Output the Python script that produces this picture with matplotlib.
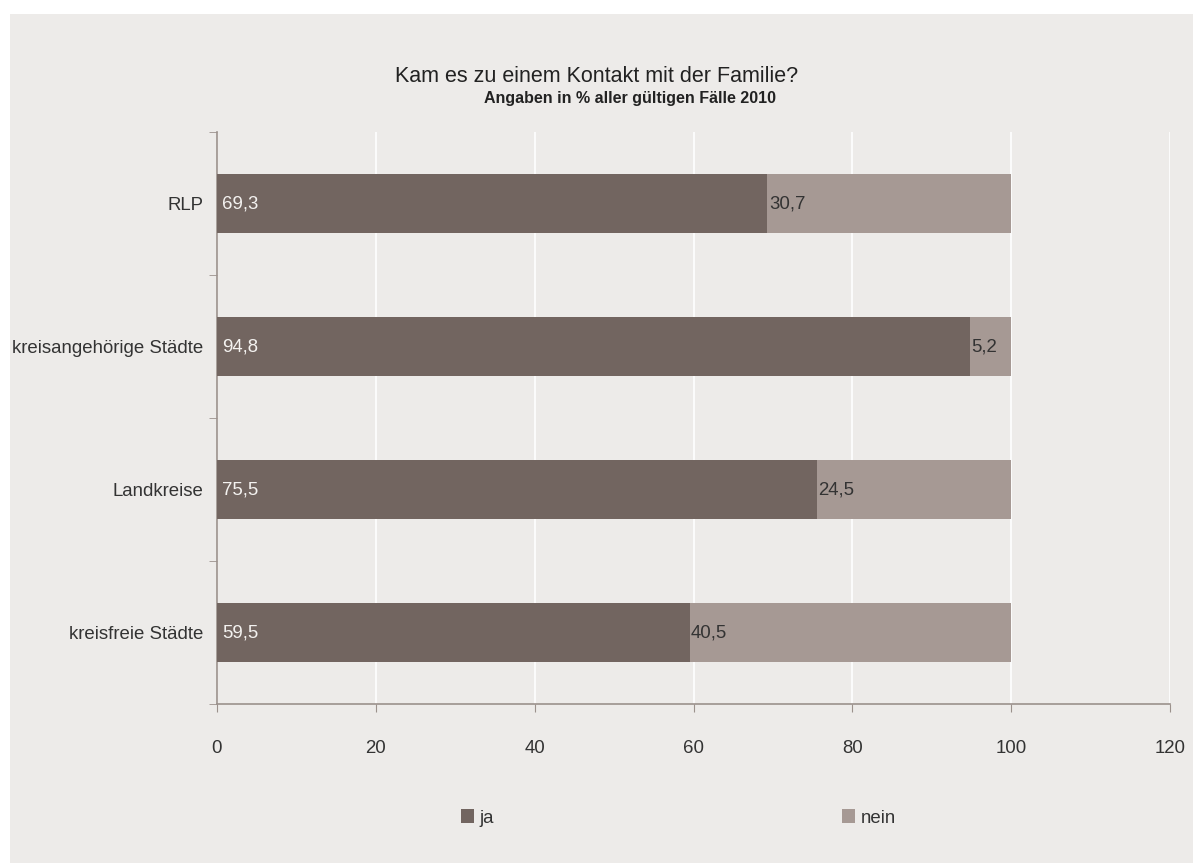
# Kam es zu einem Kontakt mit der Familie? (2010)

import matplotlib.pyplot as plt
from matplotlib.patches import Rectangle

plt.rcParams['font.family'] = ['Liberation Sans', 'DejaVu Sans']

categories = ["kreisfreie Städte", "Landkreise", "kreisangehörige Städte", "RLP"]
ja = [59.5, 75.5, 94.8, 69.3]
nein = [40.5, 24.5, 5.2, 30.7]
xticks = [0, 20, 40, 60, 80, 100, 120]

bg = "#edebe9"
col_ja = "#726560"
col_nein = "#a69994"
axis_col = "#9b918c"
text_col = "#333333"
fs = 13.4

fig = plt.figure(figsize=(11.93, 8.63), dpi=100)
fig.patch.set_facecolor("white")
fig.patches.append(Rectangle((10 / 1193, 0), 1, 1 - 14 / 863, transform=fig.transFigure,
                             facecolor=bg, edgecolor="none", zorder=-10))

ax = fig.add_axes([217 / 1193, 1 - 704 / 863, (1170 - 217) / 1193, (704 - 132) / 863])
ax.set_facecolor(bg)

y = range(len(categories))
b1 = ax.barh(y, ja, height=0.41, color=col_ja, label="ja", zorder=3)
b2 = ax.barh(y, nein, left=ja, height=0.41, color=col_nein, label="nein", zorder=3)

# value labels at the start of each segment
for i in y:
    ax.text(0.6, i, f"{ja[i]:.1f}".replace(".", ","), va="center", ha="left",
            fontsize=fs, color="#f4f2f0", zorder=4)
    ax.text(ja[i] + 0.2, i, f"{nein[i]:.1f}".replace(".", ","), va="center", ha="left",
            fontsize=fs, color=text_col, zorder=4)

ax.set_xlim(0, 120)
ax.set_ylim(-0.5, 3.5)
ax.set_xticks(xticks)
ax.set_xticklabels([str(t) for t in xticks], fontsize=fs, color=text_col)
ax.set_yticks(list(y))
ax.set_yticklabels(categories, fontsize=fs, color=text_col)
ax.set_yticks([-0.5, 0.5, 1.5, 2.5, 3.5], minor=True)
ax.tick_params(axis="y", which="major", length=0, pad=10)
ax.tick_params(axis="y", which="minor", length=6, color=axis_col, direction="out")
ax.tick_params(axis="x", length=6, color=axis_col, direction="out", pad=20)

ax.grid(axis="x", color="white", linewidth=1.2, zorder=1)
for s in ["top", "right"]:
    ax.spines[s].set_visible(False)
for s in ["left", "bottom"]:
    ax.spines[s].set_color(axis_col)
    ax.spines[s].set_linewidth(1.2)

fig.text(597 / 1193, 1 - 76 / 863, "Kam es zu einem Kontakt mit der Familie?",
         ha="center", va="center", fontsize=15.5, color="#222222")
fig.text(630 / 1193, 1 - 98 / 863, "Angaben in % aller gültigen Fälle 2010",
         ha="center", va="center", fontsize=11.5, fontweight="bold", color="#222222")

fig.legend(handles=[b1, b2], labels=["ja", "nein"], loc="center", ncol=2,
           bbox_to_anchor=(678.5 / 1193, 1 - 818 / 863), frameon=False, fontsize=fs,
           handlelength=0.7, handleheight=0.7, handletextpad=0.3, columnspacing=18.7,
           labelcolor=text_col)

fig.savefig("out.png", dpi=100, facecolor=fig.get_facecolor())
